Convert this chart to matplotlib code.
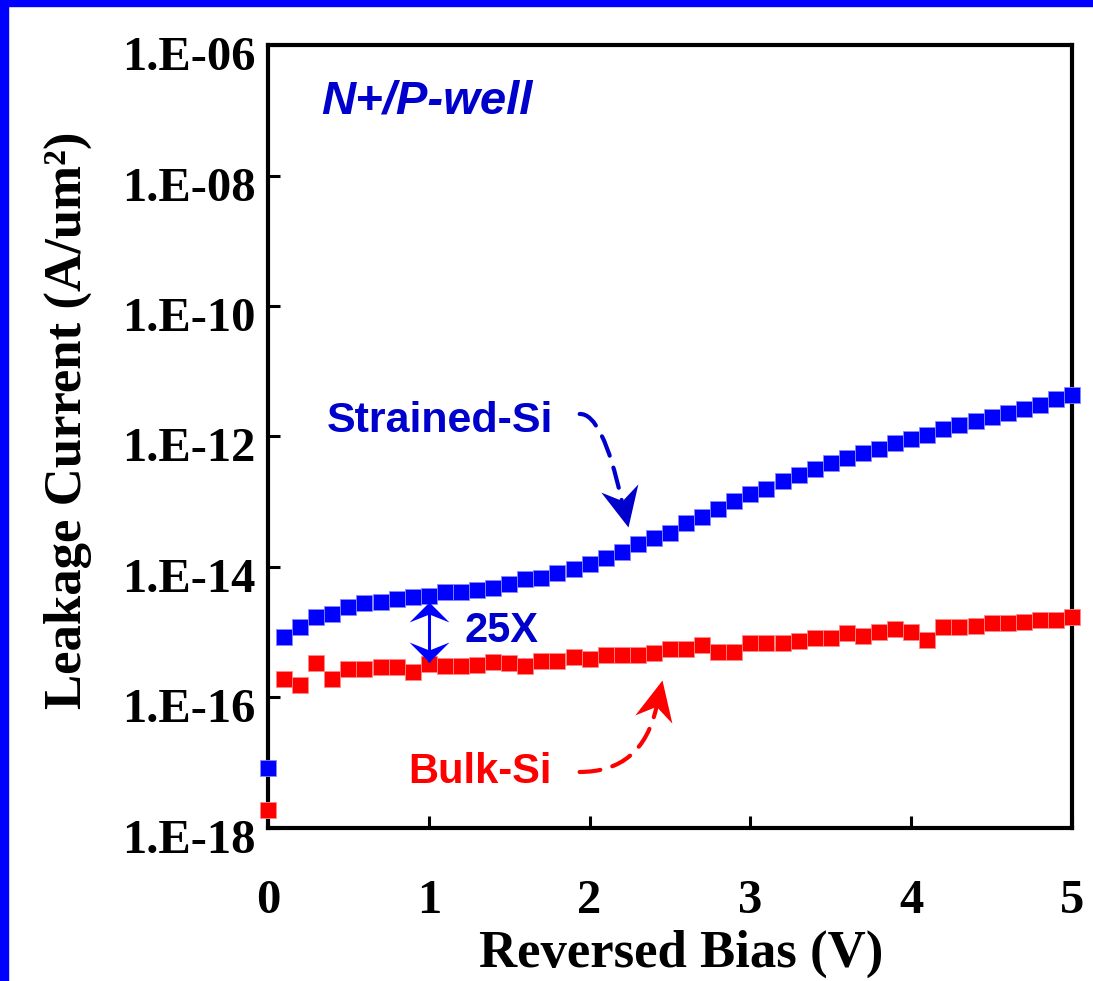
"""
Reverse-bias leakage of N+/P-well junctions: strained-Si vs bulk-Si
"""

import matplotlib
matplotlib.use('Agg')
import matplotlib.pyplot as plt
import numpy as np
from matplotlib.path import Path
from matplotlib.markers import MarkerStyle
from matplotlib.patches import FancyArrowPatch, Rectangle
from matplotlib.ticker import FixedLocator, NullLocator
from matplotlib.transforms import Affine2D, ScaledTranslation

DPI = 100

# Bias sweep (V)
bias_v = [0.0, 0.1, 0.2, 0.3, 0.4, 0.5, 0.6, 0.7, 0.8, 0.9,
          1.0, 1.1, 1.2, 1.3, 1.4, 1.5, 1.6, 1.7, 1.8, 1.9,
          2.0, 2.1, 2.2, 2.3, 2.4, 2.5, 2.6, 2.7, 2.8, 2.9,
          3.0, 3.1, 3.2, 3.3, 3.4, 3.5, 3.6, 3.7, 3.8, 3.9,
          4.0, 4.1, 4.2, 4.3, 4.4, 4.5, 4.6, 4.7, 4.8, 4.9, 5.0]

# log10 of leakage current density (A/um^2)
log_i_strained = [-17.08, -15.07, -14.92, -14.77, -14.72, -14.61, -14.55, -14.54, -14.49, -14.46,
                  -14.44, -14.38, -14.38, -14.35, -14.32, -14.26, -14.19, -14.17, -14.09, -14.03,
                  -13.95, -13.86, -13.77, -13.65, -13.56, -13.48, -13.33, -13.23, -13.11, -12.99,
                  -12.88, -12.80, -12.68, -12.59, -12.50, -12.41, -12.33, -12.25, -12.19, -12.10,
                  -12.04, -11.98, -11.89, -11.82, -11.76, -11.70, -11.64, -11.58, -11.52, -11.43, -11.36]

log_i_bulk = [-17.72, -15.72, -15.81, -15.47, -15.72, -15.56, -15.56, -15.53, -15.53, -15.61,
              -15.49, -15.52, -15.52, -15.50, -15.46, -15.47, -15.52, -15.44, -15.44, -15.38,
              -15.41, -15.35, -15.35, -15.35, -15.32, -15.26, -15.26, -15.20, -15.30, -15.30,
              -15.17, -15.17, -15.17, -15.13, -15.09, -15.09, -15.01, -15.06, -15.00, -14.95,
              -15.00, -15.12, -14.92, -14.92, -14.90, -14.86, -14.86, -14.84, -14.81, -14.81, -14.77]

xtick_vals = [0, 1, 2, 3, 4, 5]
ytick_vals = [1e-18, 1e-16, 1e-14, 1e-12, 1e-10, 1e-08, 1e-06]
ytick_labels = ['1.E-18', '1.E-16', '1.E-14', '1.E-12', '1.E-10', '1.E-08', '1.E-06']

BLUE = '#0000FF'
DARK_BLUE = '#0000CC'
RED = '#FF0000'
SERIF = 'Liberation Serif'
SANS = 'Liberation Sans'


def arrow_head(ax, x, y, length, width, notch, angle, color):
    """Filled notched arrow head (sizes in pixels) with its tip at (x, y)."""
    verts = [(0, 0), (-length, width / 2), (-notch, 0), (-length, -width / 2), (0, 0)]
    codes = [Path.MOVETO, Path.LINETO, Path.LINETO, Path.LINETO, Path.CLOSEPOLY]
    ext = max(length, width / 2)
    marker = MarkerStyle(Path(verts, codes), transform=Affine2D().rotate_deg(angle))
    ax.plot([x], [y], marker=marker, ms=2 * ext * 72 / DPI, color=color,
            mew=0, ls='none', clip_on=False, zorder=5)


def dashed_curve(ax, start, end, angle_a, angle_b, color):
    curve = FancyArrowPatch(start, end, arrowstyle='-',
                            connectionstyle=f'angle3,angleA={angle_a},angleB={angle_b}',
                            color=color, lw=3, linestyle=(0, (5, 3)),
                            shrinkA=0, shrinkB=0, zorder=4)
    ax.add_patch(curve)


fig = plt.figure(figsize=(10.93, 9.81), dpi=DPI, facecolor='white')
ax = fig.add_axes([0.2452, 0.156, 0.7356, 0.7981])

x = np.array(bias_v)
strained = 10 ** np.array(log_i_strained)
bulk = 10 ** np.array(log_i_bulk)

ax.plot(x, strained, ls='none', marker='s', ms=11.5, color=BLUE,
        mec='#8888FF', mew=0.6, clip_on=False, zorder=3)
ax.plot(x, bulk, ls='none', marker='s', ms=11.5, color=RED,
        mec='#FF8888', mew=0.6, clip_on=False, zorder=3)

ax.set_yscale('log')
ax.set_xlim(0, 5)
ax.set_ylim(1e-18, 1e-6)

ax.xaxis.set_major_locator(FixedLocator(xtick_vals))
ax.set_xticklabels([str(v) for v in xtick_vals])
ax.yaxis.set_major_locator(FixedLocator(ytick_vals))
ax.yaxis.set_minor_locator(NullLocator())
ax.set_yticklabels(ytick_labels)

for spine in ax.spines.values():
    spine.set_linewidth(3)
ax.tick_params(axis='both', direction='in', length=8.6, width=2.2)
ax.tick_params(axis='x', pad=37)
ax.tick_params(axis='y', pad=9)
for lab in ax.get_xticklabels() + ax.get_yticklabels():
    lab.set_fontfamily(SERIF)
    lab.set_fontweight('bold')
    lab.set_fontsize(35)
shift = ScaledTranslation(0, -0.08, fig.dpi_scale_trans)
for lab in ax.get_yticklabels():
    lab.set_transform(lab.get_transform() + shift)

ax.set_xlabel('Reversed Bias (V)', fontfamily=SERIF, fontweight='bold', fontsize=38)
ax.set_ylabel('Leakage Current (A/um²)', fontfamily=SERIF, fontweight='bold', fontsize=38)
ax.xaxis.set_label_coords(0.514, -0.1295)
ax.yaxis.set_label_coords(-0.2186, 0.521)

# Annotations
ax.text(0.066, 0.912, 'N+/P-well', transform=ax.transAxes, color=DARK_BLUE,
        fontfamily=SANS, fontweight='bold', fontstyle='italic', fontsize=34, va='baseline')
ax.text(0.0733, 0.506, 'Strained-Si', transform=ax.transAxes, color=DARK_BLUE,
        fontfamily=SANS, fontweight='bold', fontsize=31, va='baseline')
ax.text(0.2447, 0.237, '25X', transform=ax.transAxes, color=DARK_BLUE,
        fontfamily=SANS, fontweight='bold', fontsize=30, va='baseline')
ax.text(0.174, 0.0575, 'Bulk-Si', transform=ax.transAxes, color=RED,
        fontfamily=SANS, fontweight='bold', fontsize=30, va='baseline')

# 25X double arrow between the two curves at 1 V
gap_top, gap_bot = 10 ** -14.53, 10 ** -15.45
ax.plot([1.0, 1.0], [gap_top, gap_bot], color=BLUE, lw=2.2, zorder=4, solid_capstyle='butt')
arrow_head(ax, 1.0, gap_top, 20, 40, 12, 90, BLUE)
arrow_head(ax, 1.0, gap_bot, 20, 40, 12, -90, BLUE)

# curved pointers from the series labels
dashed_curve(ax, (1.938, 10 ** -11.655), (2.199, 10 ** -12.973), 3, -77.5, DARK_BLUE)
arrow_head(ax, 2.236, 10 ** -13.387, 40, 38, 27, -77.5, DARK_BLUE)
dashed_curve(ax, (1.938, 10 ** -17.142), (2.416, 10 ** -16.146), 0, 77.5, RED)
arrow_head(ax, 2.453, 10 ** -15.732, 40, 38, 27, 77.5, RED)

# blue frame along the top and left edges
fig.patches.append(Rectangle((0, 0), 0.0073, 1, transform=fig.transFigure,
                             color=BLUE, zorder=10))
fig.patches.append(Rectangle((0, 1 - 0.0061), 1, 0.0061, transform=fig.transFigure,
                             color=BLUE, zorder=10))

fig.savefig('out.png', dpi=DPI, facecolor='white')
